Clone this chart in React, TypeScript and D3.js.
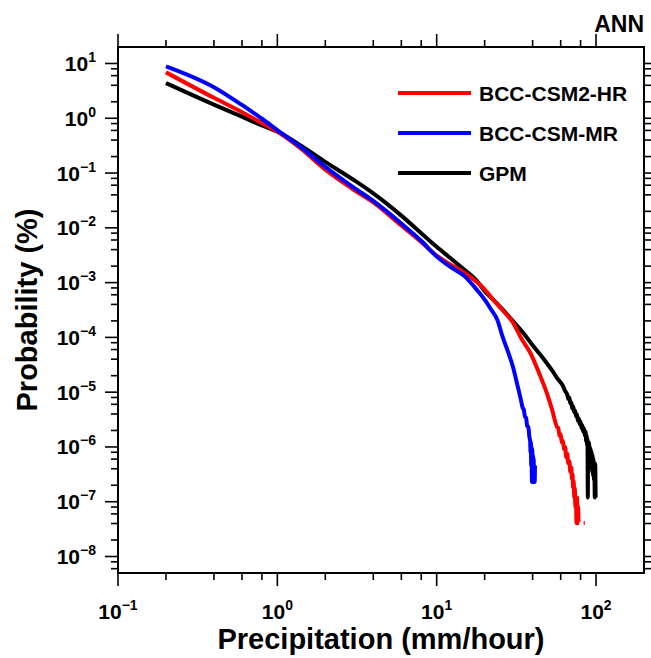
import React from "react";
import * as d3 from "d3";

// BCC-CSM2-HR (red)
const hrX = [0.2, 0.4, 0.6, 0.8, 1.0, 1.4, 2.0, 3.0, 4.0, 6.0, 8.0, 10, 12, 15, 18, 20, 22.6, 26, 30, 34, 38.6, 44, 49, 53, 57, 58, 59, 60, 61, 62, 63, 64, 65, 66, 67, 68, 69, 70, 70.6, 71.2, 71.8, 72.4, 73, 73.6, 74.2, 74.8, 75.4, 76, 76.6, 77.2, 77.8, 78.4, 80, 83.6, 85];
const hrY: (number | null)[] = [6.9, 2.36, 1.29, 0.82, 0.57, 0.28, 0.115, 0.05, 0.029, 0.011, 0.0055, 0.0031, 0.0022, 0.0015, 0.001, 0.00075, 0.00049, 0.00031, 0.00019, 9.5e-5, 5.3e-5, 2.2e-5, 9.8e-6, 4.8e-6, 2.3e-6, 2.2e-6, 1.6e-6, 1.7e-6, 1.2e-6, 1.3e-6, 9e-7, 1.0e-6, 6.5e-7, 7.5e-7, 5e-7, 5.5e-7, 3.5e-7, 4.2e-7, 2.6e-7, 3.2e-7, 1.8e-7, 2.4e-7, 1.2e-7, 1.8e-7, 8e-8, 1.2e-7, 4.1e-8, 1.2e-7, 4.1e-8, 8.2e-8, 4.1e-8, 4.1e-8, null, 4.1e-8, 4.1e-8];

// BCC-CSM-MR (blue)
const mrX = [0.2, 0.4, 0.6, 0.8, 1.0, 1.4, 2.0, 3.0, 4.0, 6.0, 8.0, 10, 12, 15, 18, 20, 22, 24, 26, 28, 30, 32, 34, 34.6, 35.2, 35.8, 36.4, 37, 37.6, 38.2, 38.6, 38.8, 39.0, 39.2, 39.4, 39.6, 39.8, 40.0, 40.2, 40.4, 40.6, 40.8, 41.0, 41.2, 41.4];
const mrY: (number | null)[] = [8.9, 3.7, 1.75, 0.98, 0.61, 0.3, 0.13, 0.055, 0.031, 0.012, 0.0058, 0.003, 0.002, 0.0013, 0.00072, 0.00049, 0.00032, 0.00021, 0.0001, 5.5e-5, 3e-5, 1.4e-5, 6.6e-6, 5.2e-6, 4.8e-6, 3.6e-6, 3.4e-6, 2.4e-6, 2.3e-6, 1.5e-6, 1.3e-6, 8e-7, 1.2e-6, 4.6e-7, 1.0e-6, 2.3e-7, 9e-7, 2.3e-7, 7e-7, 2.3e-7, 6e-7, 2.3e-7, 4.6e-7, 2.3e-7, 4.6e-7];

// GPM (black)
const gpmX = [0.2, 0.4, 0.6, 0.8, 1.0, 1.4, 2.0, 3.0, 4.0, 6.0, 8.0, 10, 12, 15, 18, 20, 22.6, 26, 30, 35, 40, 45, 49, 53, 57, 62, 64, 66, 67, 68, 69, 70, 71, 72, 73, 74, 75, 76, 77, 78, 79, 80, 81, 82, 83, 84, 85, 86, 86.6, 87.2, 87.8, 88.4, 88.8, 89.2, 89.8, 90.4, 91, 91.6, 92.2, 92.8, 93.4, 94, 94.6, 95.2, 95.8, 96.4, 97, 97.6, 98.2, 98.8, 99.4];
const gpmY: (number | null)[] = [4.4, 1.78, 1.07, 0.74, 0.57, 0.32, 0.16, 0.0755, 0.0425, 0.0167, 0.008, 0.0045, 0.0029, 0.0017, 0.00105, 0.0007, 0.00049, 0.00032, 0.0002, 0.00012, 7.2e-5, 4.7e-5, 3.4e-5, 2.5e-5, 1.8e-5, 1.3e-5, 1.05e-5, 9e-6, 7.5e-6, 8e-6, 6.2e-6, 6.5e-6, 5e-6, 5.5e-6, 4.3e-6, 4.6e-6, 3.6e-6, 3.9e-6, 3.0e-6, 3.3e-6, 2.6e-6, 2.9e-6, 2.2e-6, 2.5e-6, 1.9e-6, 2.2e-6, 1.6e-6, 1.9e-6, 1.3e-6, 1.6e-6, 1.1e-6, 1.4e-6, 1.2e-7, 1.2e-6, 8e-7, 1.2e-6, 6e-7, 1.0e-6, 5e-7, 9e-7, 4e-7, 8e-7, 3.5e-7, 7e-7, 3e-7, 6e-7, 2.5e-7, 5e-7, 1.2e-7, 5e-7, 1.2e-7];

const seriesNames = ["BCC-CSM2-HR", "BCC-CSM-MR", "GPM"];
const seriesColors = ["#ff0000", "#0000ff", "#000000"];

const xMajor = [0.1, 1, 10, 100];
const xMinorMult = [2, 4, 6, 8];
const yMajor = [1e-8, 1e-7, 1e-6, 1e-5, 1e-4, 1e-3, 1e-2, 1e-1, 1, 10];
const yMinorMult = [2, 4, 6, 8];

const xTitle = "Precipitation (mm/hour)";
const yTitle = "Probability (%)";
const cornerLabel = "ANN";

const FONT = "'Liberation Sans', Arial, Helvetica, sans-serif";

function expStr(v: number) {
  const e = Math.round(Math.log10(v));
  return e < 0 ? "\u2212" + Math.abs(e) : String(e);
}

export default function App() {
  const L = 118, R = 644, T = 47, B = 573;
  const x = d3.scaleLog().domain([0.1, 200]).range([L, R]);
  const y = d3.scaleLog().domain([5e-9, 20]).range([B, T]);
  const MAJ = 13, MIN = 7;

  const xMinor: number[] = [];
  xMajor.forEach((m) => xMinorMult.forEach((k) => {
    const v = m * k;
    if (v > 0.1 && v < 200) xMinor.push(v);
  }));
  const yMinor: number[] = [];
  [1e-9, ...yMajor].forEach((m) => yMinorMult.forEach((k) => {
    const v = m * k;
    if (v > 5e-9 && v < 20) yMinor.push(v);
  }));

  const series = [
    { xs: hrX, ys: hrY },
    { xs: mrX, ys: mrY },
    { xs: gpmX, ys: gpmY },
  ];

  const line = d3
    .line<[number, number | null]>()
    .defined((d) => d[1] != null)
    .x((d) => x(d[0]))
    .y((d) => y(d[1] as number))
    .curve(d3.curveMonotoneX);

  const drawOrder = [2, 0, 1];

  return (
    <svg
      width={651}
      height={658}
      style={{ position: "absolute", left: 0, top: 0, background: "#fff" }}
      fontFamily={FONT}
    >
      <rect x={0} y={0} width={651} height={658} fill="#fff" />
      <g fill="none" strokeWidth={4} strokeLinejoin="round" strokeLinecap="butt">
        {drawOrder.map((i) => {
          const s = series[i];
          const pts = s.xs.map((v, j) => [v, s.ys[j]] as [number, number | null]);
          return <path key={i} d={line(pts) || ""} stroke={seriesColors[i]} />;
        })}
      </g>

      <rect x={L} y={T} width={R - L} height={B - T} fill="none" stroke="#000" strokeWidth={2} />

      <g stroke="#000" strokeWidth={1.6}>
        {xMajor.map((v) => (
          <g key={"xM" + v}>
            <line x1={x(v)} x2={x(v)} y1={B} y2={B + MAJ} />
            <line x1={x(v)} x2={x(v)} y1={T} y2={T - MAJ} />
          </g>
        ))}
        {xMinor.map((v) => (
          <g key={"xm" + v}>
            <line x1={x(v)} x2={x(v)} y1={B} y2={B + MIN} />
            <line x1={x(v)} x2={x(v)} y1={T} y2={T - MIN} />
          </g>
        ))}
        {yMajor.map((v) => (
          <g key={"yM" + v}>
            <line x1={L} x2={L - MAJ} y1={y(v)} y2={y(v)} />
            <line x1={R} x2={R + MAJ} y1={y(v)} y2={y(v)} />
          </g>
        ))}
        {yMinor.map((v) => (
          <g key={"ym" + v}>
            <line x1={L} x2={L - MIN} y1={y(v)} y2={y(v)} />
            <line x1={R} x2={R + MIN} y1={y(v)} y2={y(v)} />
          </g>
        ))}
      </g>

      <g fontSize={21} fontWeight="bold" fill="#000">
        {xMajor.map((v) => (
          <text key={"xl" + v} x={x(v)} y={619} textAnchor="middle">
            <tspan>10</tspan>
            <tspan fontSize={14} dy={-9}>{expStr(v)}</tspan>
          </text>
        ))}
        {yMajor.map((v) => (
          <text key={"yl" + v} x={96} y={y(v) + 7.5} textAnchor="end">
            <tspan>10</tspan>
            <tspan fontSize={14} dy={-9}>{expStr(v)}</tspan>
          </text>
        ))}
      </g>

      <text x={(L + R) / 2} y={649} textAnchor="middle" fontSize={29} fontWeight="bold">
        {xTitle}
      </text>
      <text
        transform={`translate(37, ${(T + B) / 2}) rotate(-90)`}
        textAnchor="middle"
        fontSize={29}
        fontWeight="bold"
      >
        {yTitle}
      </text>

      <text x={R} y={32} textAnchor="end" fontSize={23} fontWeight="bold">
        {cornerLabel}
      </text>

      <g>
        {seriesNames.map((n, i) => {
          const ly = 93 + i * 40;
          return (
            <g key={n}>
              <line x1={398} x2={471} y1={ly} y2={ly} stroke={seriesColors[i]} strokeWidth={4} />
              <text x={479} y={ly + 7.5} fontSize={21} fontWeight="bold">
                {n}
              </text>
            </g>
          );
        })}
      </g>
    </svg>
  );
}
